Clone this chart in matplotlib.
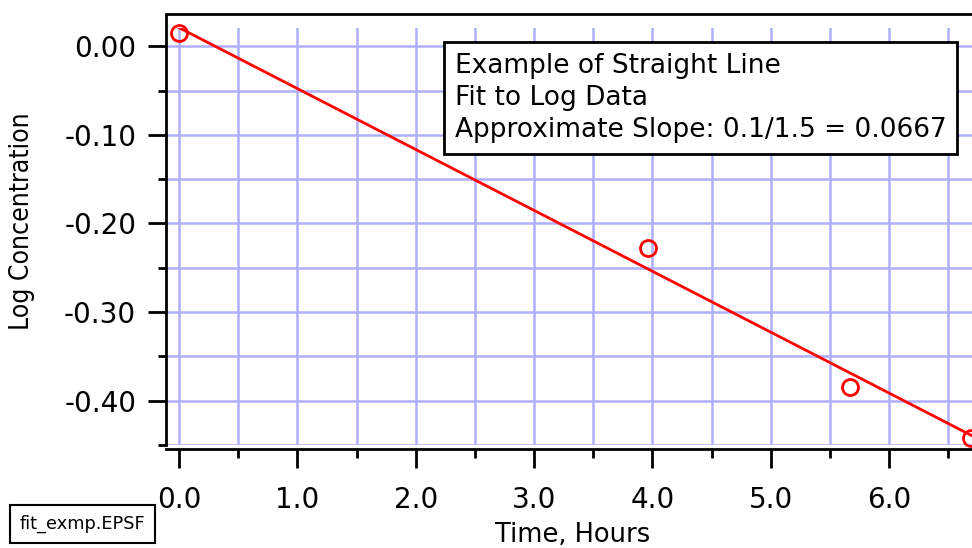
import matplotlib.pyplot as plt
import numpy as np
from matplotlib.ticker import FixedLocator, FixedFormatter

# Data
time_hours = [0.0, 3.96, 5.67, 6.69]
log_conc = [0.015, -0.228, -0.385, -0.442]

# Straight line fit (end points)
fit_x = [0.0, 6.75]
fit_y = [0.021, -0.443]

xticks = [0, 1, 2, 3, 4, 5, 6]
xtick_labels = ['0.0', '1.0', '2.0', '3.0', '4.0', '5.0', '6.0']
xminor = [0.5, 1.5, 2.5, 3.5, 4.5, 5.5, 6.5]
yticks = [0.0, -0.1, -0.2, -0.3, -0.4]
ytick_labels = ['0.00', '-0.10', '-0.20', '-0.30', '-0.40']
yminor = [-0.05, -0.15, -0.25, -0.35, -0.45]

note = 'Example of Straight Line\nFit to Log Data\nApproximate Slope: 0.1/1.5 = 0.0667'

fig = plt.figure(figsize=(9.72, 5.48), dpi=100)
ax = fig.add_axes([0.1708, 0.188, 0.8292, 0.761])

ax.plot(fit_x, fit_y, color='red', linewidth=2.0, zorder=3)
ax.plot(time_hours, log_conc, linestyle='none', marker='o', markersize=11.5,
        markerfacecolor='none', markeredgecolor='red', markeredgewidth=2.0,
        zorder=4, clip_on=False)

ax.set_xlim(-0.11, 6.70)
ax.set_ylim(-0.450, 0.0207)

ax.xaxis.set_major_locator(FixedLocator(xticks))
ax.xaxis.set_major_formatter(FixedFormatter(xtick_labels))
ax.xaxis.set_minor_locator(FixedLocator(xminor))
ax.yaxis.set_major_locator(FixedLocator(yticks))
ax.yaxis.set_major_formatter(FixedFormatter(ytick_labels))
ax.yaxis.set_minor_locator(FixedLocator(yminor))

# grid at major and minor positions
ax.grid(True, which='both', color='#aeaeff', linewidth=1.8, zorder=0)
ax.set_axisbelow(True)

# spines (Igor-like detached axes)
for s in ['left', 'bottom', 'top']:
    ax.spines[s].set_linewidth(2.0)
ax.spines['right'].set_visible(False)
ax.spines['top'].set_position(('outward', 10.1))
ax.spines['bottom'].set_position(('outward', 2.9))
ax.spines['left'].set_bounds(-0.45, 0.034)

ax.tick_params(axis='both', which='both', direction='out', width=2.0, colors='black')
ax.tick_params(axis='x', which='major', length=13.5, pad=13, labelsize=20)
ax.tick_params(axis='x', which='minor', length=6.5)
ax.tick_params(axis='y', which='major', length=13, pad=8.5, labelsize=20)
ax.tick_params(axis='y', which='minor', length=5.8)
ax.tick_params(top=False, right=False, which='both')

ax.set_xlabel('Time, Hours', fontsize=18.5)
ax.xaxis.set_label_coords(0.504, -0.215)
ax.xaxis.label.set_verticalalignment('center')

ax.set_ylabel('Log Concentration', fontsize=19, family='DejaVu Sans',
              fontstretch='condensed')
ax.yaxis.set_label_coords(-0.1787, 0.537)
ax.yaxis.label.set_verticalalignment('center')

ax.text(0.3586, 0.94, note, transform=ax.transAxes, fontsize=19,
        ha='left', va='top', linespacing=1.3, zorder=5,
        bbox=dict(boxstyle='square,pad=0.4', facecolor='white',
                  edgecolor='black', linewidth=2.0))

fig.text(0.0206, 0.0438, 'fit_exmp.EPSF', fontsize=12.8, ha='left', va='center',
         bbox=dict(boxstyle='square,pad=0.55', facecolor='white',
                   edgecolor='black', linewidth=1.5))

plt.savefig('out.png', dpi=100)
